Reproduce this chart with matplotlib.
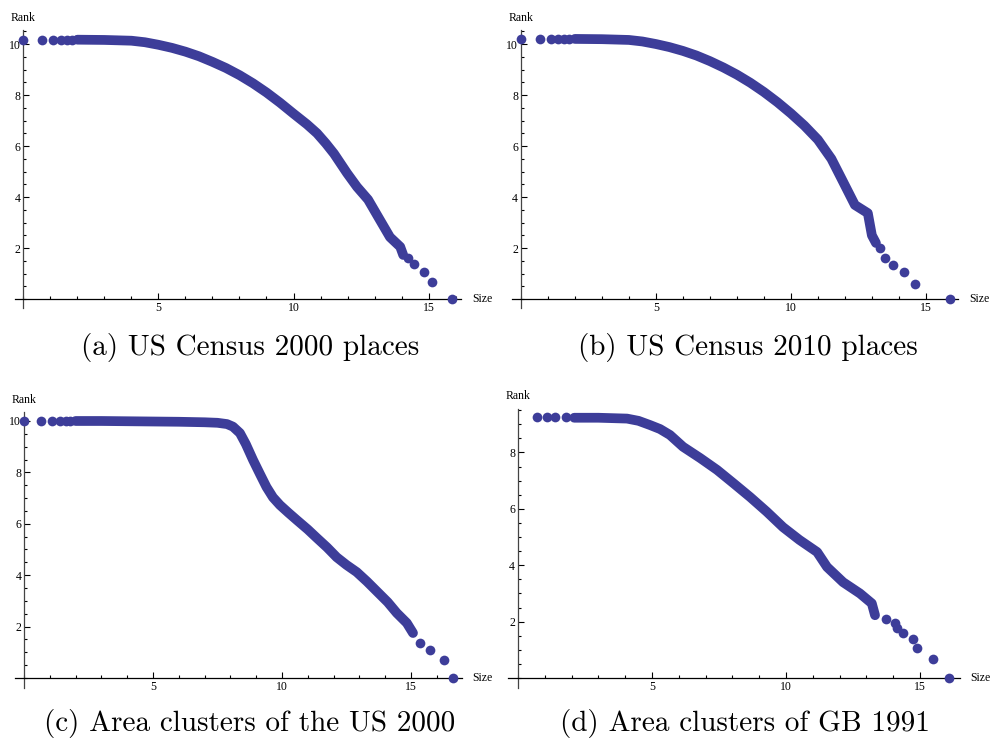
import numpy as np
import matplotlib
matplotlib.use("Agg")
import matplotlib.pyplot as plt
from matplotlib.ticker import MultipleLocator, FixedLocator

# log size / log rank readings per panel: head dots, dense band, tail dots
a_head_x = [0.0, 0.69, 1.1, 1.39, 1.61, 1.79]
a_head_y = [10.17, 10.17, 10.17, 10.17, 10.17, 10.17]
a_band_x = [2.0, 3.0, 4.0, 4.5, 5.0, 5.5, 6.0, 6.5, 7.0, 7.5, 8.0, 8.5, 9.0, 9.5,
            10.0, 10.5, 10.87, 11.2, 11.5, 11.98, 12.35, 12.76, 13.2, 13.57, 13.95, 14.06]
a_band_y = [10.17, 10.16, 10.13, 10.07, 9.97, 9.85, 9.7, 9.52, 9.3, 9.06, 8.78, 8.46, 8.1, 7.7,
            7.27, 6.85, 6.5, 6.1, 5.7, 4.94, 4.4, 3.9, 3.1, 2.43, 2.05, 1.73]
a_tail_x = [14.24, 14.46, 14.83, 15.13, 15.87]
a_tail_y = [1.6, 1.37, 1.06, 0.67, 0.0]

b_head_x = [0.0, 0.69, 1.1, 1.39, 1.61, 1.79]
b_head_y = [10.2, 10.2, 10.2, 10.2, 10.2, 10.2]
b_band_x = [2.0, 3.0, 4.0, 4.5, 5.0, 5.5, 6.0, 6.5, 7.0, 7.5, 8.0, 8.5, 9.0, 9.5,
            10.0, 10.5, 11.0, 11.5, 11.9, 12.37, 12.85, 13.0, 13.15]
b_band_y = [10.2, 10.19, 10.16, 10.1, 10.0, 9.88, 9.73, 9.55, 9.33, 9.08, 8.8, 8.48, 8.12, 7.72,
            7.28, 6.8, 6.25, 5.5, 4.67, 3.69, 3.37, 2.5, 2.2]
b_tail_x = [13.3, 13.5, 13.8, 14.2, 14.6, 15.9]
b_tail_y = [2.0, 1.6, 1.35, 1.05, 0.6, 0.0]

c_head_x = [0.0, 0.66, 1.09, 1.4, 1.63, 1.8]
c_head_y = [10.0, 10.0, 10.0, 10.0, 10.0, 10.0]
c_band_x = [2.0, 3.0, 4.0, 5.0, 6.0, 7.0, 7.5, 7.87, 8.1, 8.37, 8.6, 8.88, 9.15, 9.4, 9.65,
            9.92, 10.25, 10.57, 11.0, 11.35, 11.75, 12.12, 12.5, 12.9, 13.3, 13.7, 14.1,
            14.45, 14.84, 15.08]
c_band_y = [10.0, 10.0, 9.99, 9.98, 9.97, 9.95, 9.93, 9.88, 9.78, 9.53, 9.1, 8.48, 7.93, 7.43,
            7.03, 6.73, 6.43, 6.15, 5.78, 5.45, 5.08, 4.7, 4.4, 4.12, 3.75, 3.35, 2.95,
            2.53, 2.14, 1.75]
c_tail_x = [15.35, 15.74, 16.28, 16.63]
c_tail_y = [1.36, 1.09, 0.7, 0.0]

d_head_x = [0.7, 1.08, 1.38, 1.79]
d_head_y = [9.25, 9.25, 9.25, 9.25]
d_band_x = [2.1, 3.0, 4.07, 4.5, 4.93, 5.3, 5.67, 6.16, 6.8, 7.43, 8.05, 8.66, 9.28, 9.89,
            10.5, 11.16, 11.53, 12.13, 12.76, 13.2, 13.32]
d_band_y = [9.23, 9.23, 9.2, 9.12, 8.97, 8.83, 8.62, 8.2, 7.8, 7.38, 6.9, 6.42, 5.9, 5.35,
            4.9, 4.47, 3.94, 3.4, 3.0, 2.65, 2.23]
d_tail_x = [13.73, 14.07, 14.14, 14.37, 14.74, 14.89, 15.49, 16.08]
d_tail_y = [2.08, 1.95, 1.77, 1.6, 1.38, 1.06, 0.67, 0.0]

captions = ["(a) US Census 2000 places", "(b) US Census 2010 places",
            "(c) Area clusters of the US 2000", "(d) Area clusters of GB 1991"]
y_ticks_ab = [2, 4, 6, 8, 10]
y_ticks_d = [2, 4, 6, 8]
x_ticks = [5, 10, 15]

W, H = 992, 742
COL = "#3d3d99"
fig = plt.figure(figsize=(W / 100, H / 100), dpi=100)


def panel(box, xlim, ylim, head, band, tail, yticks):
    l, r, t, b = box
    ax = fig.add_axes([l / W, 1 - b / H, (r - l) / W, (b - t) / H])
    ax.set_xlim(*xlim)
    ax.set_ylim(*ylim)
    ax.plot(band[0], band[1], color=COL, lw=7, solid_capstyle="round",
            solid_joinstyle="round", zorder=3)
    for xs, ys in (head, tail):
        ax.plot(xs, ys, "o", color=COL, ms=7, mec="none", zorder=3)
    for s in ("top", "right"):
        ax.spines[s].set_visible(False)
    ax.spines["left"].set_position(("data", 0))
    ax.spines["bottom"].set_position(("data", 0))
    ax.spines["left"].set_color("#444444")
    for s in ("left", "bottom"):
        ax.spines[s].set_linewidth(0.9)
    ax.xaxis.set_major_locator(FixedLocator(x_ticks))
    ax.xaxis.set_minor_locator(MultipleLocator(1))
    ax.yaxis.set_major_locator(FixedLocator(yticks))
    ax.yaxis.set_minor_locator(MultipleLocator(0.5))
    ax.tick_params(which="both", direction="in", width=0.8, labelsize=8.5, pad=2)
    ax.tick_params(which="major", length=4)
    ax.tick_params(which="minor", length=2.5)
    for lab in ax.get_xticklabels() + ax.get_yticklabels():
        lab.set_fontfamily("Liberation Serif")
    ax.patch.set_alpha(0)
    ax.text(0, ylim[1] + 0.25, "Rank", fontsize=8.5, family="Liberation Serif",
            ha="center", va="bottom", transform=ax.transData, clip_on=False)
    ax.text(xlim[1] + 0.4, 0, "Size", fontsize=8.5, family="Liberation Serif",
            ha="left", va="center", transform=ax.transData, clip_on=False)
    return ax


panel((15, 461, 30, 308), (-0.31, 16.2), (-0.35, 10.55),
      (a_head_x, a_head_y), (a_band_x, a_band_y), (a_tail_x, a_tail_y), y_ticks_ab)
panel((512, 958, 30, 308), (-0.33, 16.19), (-0.35, 10.55),
      (b_head_x, b_head_y), (b_band_x, b_band_y), (b_tail_x, b_tail_y), y_ticks_ab)
panel((15, 462, 412, 688), (-0.35, 16.98), (-0.39, 10.35),
      (c_head_x, c_head_y), (c_band_x, c_band_y), (c_tail_x, c_tail_y), y_ticks_ab)
panel((508, 960, 409, 688), (-0.37, 16.49), (-0.35, 9.54),
      (d_head_x, d_head_y), (d_band_x, d_band_y), (d_tail_x, d_tail_y), y_ticks_d)

cap_pos = [(250, 347), (748, 347), (250, 723), (745, 723)]
for (cx, cy), txt in zip(cap_pos, captions):
    fig.text(cx / W, 1 - cy / H, txt, fontsize=21, family="cmr10",
             ha="center", va="center")

fig.savefig("out.png", dpi=100)
